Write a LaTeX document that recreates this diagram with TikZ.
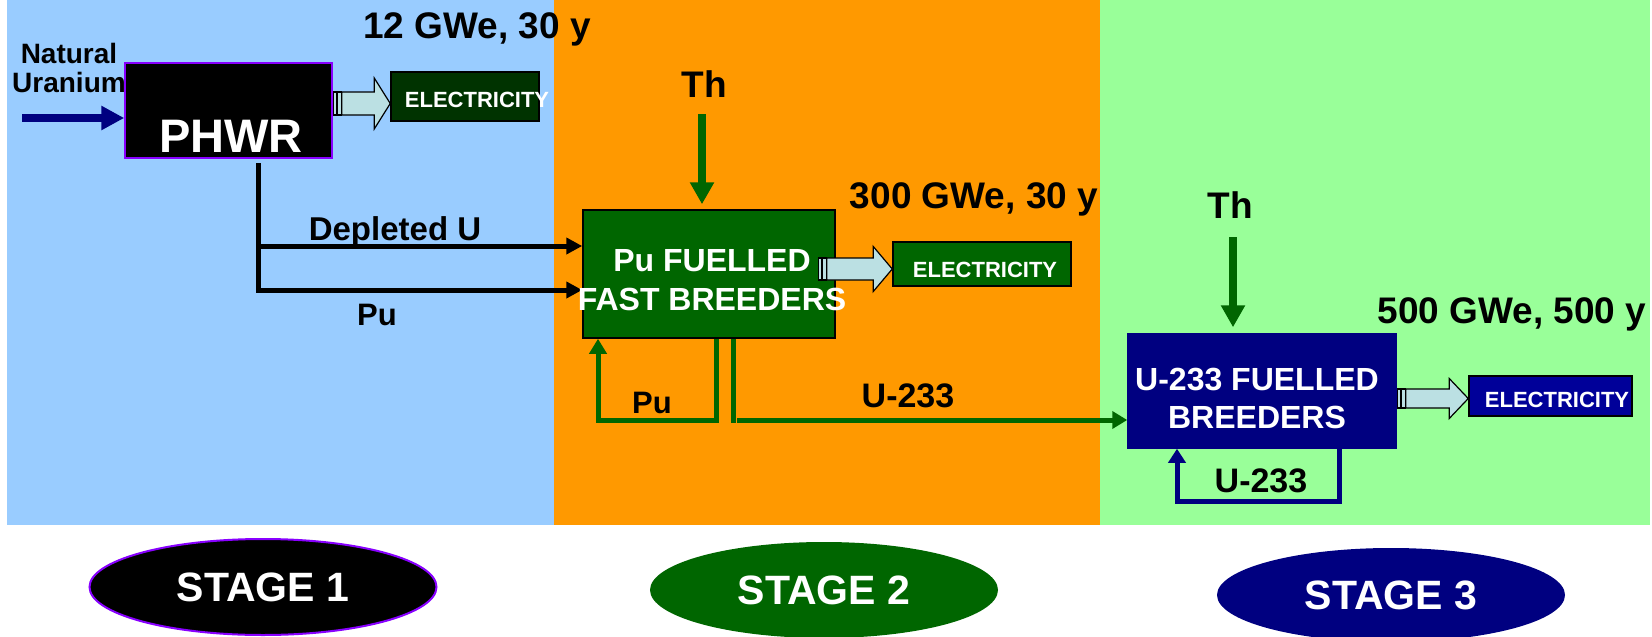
\documentclass[tikz,border=0pt]{standalone}
\usepackage{fontspec}
\setmainfont{Liberation Sans}
\usetikzlibrary{arrows.meta,calc,shapes.geometric}
\definecolor{pblue}{HTML}{99CCFF}
\definecolor{porange}{HTML}{FF9900}
\definecolor{pgreen}{HTML}{99FF99}
\definecolor{dgreen}{HTML}{006600}
\definecolor{ddgreen}{HTML}{003300}
\definecolor{navyb}{HTML}{000080}
\definecolor{navyc}{HTML}{000099}
\definecolor{purp}{HTML}{8800FF}
\definecolor{arrfill}{HTML}{BBE0E3}
\newcommand{\myfs}[1]{\fontsize{#1pt}{#1pt}\selectfont\bfseries}
\newcommand{\elecarrow}[5]{%
  \draw[earrow] ($(#1)+(1,-#3)$) rectangle ($(#1)+(4,#3)$);
  \draw[earrow] ($(#1)+(5,-#3)$) rectangle ($(#1)+(9,#3)$);
  \draw[earrow] ($(#1)+(9,-#3)$) -- ($(#2)+(-#5,-#3)$) -- ($(#2)+(-#5,-#4)$) -- (#2)
     -- ($(#2)+(-#5,#4)$) -- ($(#2)+(-#5,#3)$) -- ($(#1)+(9,#3)$) -- cycle;}
\begin{document}
\begin{tikzpicture}[x=1pt,y=-1pt,
  txt/.style={anchor=base,inner sep=0pt,font=\myfs{#1}},
  box/.style={rectangle,draw=black,line width=1.5pt,inner sep=0pt},
  earrow/.style={draw=black,fill=arrfill,line width=1.2pt,line join=miter},
  navyarrow/.style={draw=navyb,line width=8pt,-{Triangle[length=23pt,width=23pt]}},
  blk/.style={draw=black,line width=5pt,line join=miter},
  blkarrow/.style={blk,-{Triangle[length=16pt,width=16pt]}},
  grarrow/.style={draw=dgreen,line width=8pt,-{Triangle[length=22pt,width=23pt]}},
  grline/.style={draw=dgreen,line width=5pt,line join=miter},
  nvline/.style={draw=navyb,line width=5pt,line join=miter},
  stage/.style={ellipse,inner sep=0pt,minimum width=348,text=white,font=\myfs{41}}]
\useasboundingbox (0,0) rectangle (1652,637);
\clip (0,0) rectangle (1652,637);
\fill[white] (0,0) rectangle (1652,637);
% panels
\fill[pblue] (7.4,0) rectangle (554,525);
\fill[porange] (554,0) rectangle (1100,525);
\fill[pgreen] (1100,0) rectangle (1650,525);
% boxes
\node[box,fill=black,draw=purp,minimum width=207,minimum height=95] (phwr) at (228.5,110.5) {};
\node[box,fill=ddgreen,minimum width=148,minimum height=49] (elec1) at (465,96.5) {};
\node[box,fill=dgreen,minimum width=252,minimum height=128] (fbr) at (709,274) {};
\node[box,fill=dgreen,minimum width=178,minimum height=44] (elec2) at (982,264) {};
\node[box,fill=navyb,draw=navyb,minimum width=268,minimum height=114] (ubr) at (1262,391) {};
\node[box,fill=navyc,minimum width=163,minimum height=40] (elec3) at (1550.5,396) {};
% electricity block arrows
\coordinate (e1s) at (phwr.east |- 0,103.5);
\coordinate (e1t) at (elec1.west |- 0,103.5);
\elecarrow{e1s}{e1t}{11.5}{25.5}{16}
\coordinate (e2s) at ($(fbr.east |- 0,269)+(-18,0)$);
\coordinate (e2t) at (elec2.west |- 0,269);
\elecarrow{e2s}{e2t}{11}{22.5}{19}
\coordinate (e3s) at (ubr.east |- 0,398.5);
\coordinate (e3t) at (elec3.west |- 0,398.5);
\elecarrow{e3s}{e3t}{9.5}{20}{19}
% natural uranium input
\coordinate (nu) at (22,118);
\draw[navyarrow] (nu) -- (nu -| phwr.west);
% depleted U and Pu from PHWR
\coordinate (dv) at (258,163);
\draw[blkarrow] (dv) -- (dv |- 0,290) -- (fbr.west |- 0,290);
\draw[blkarrow] (dv |- 0,246) -- (fbr.west |- 0,246);
% thorium inputs
\coordinate (th2s) at (702,114);
\draw[grarrow] (th2s) -- ($(th2s |- fbr.north)+(0,-5)$);
\coordinate (th3s) at (1233,237);
\draw[grarrow] (th3s) -- ($(th3s |- ubr.north)+(0,-6)$);
% Pu recycle loop
\draw[grline,-{Triangle[length=15pt,width=17pt]}] (fbr.south -| 716,0) -- (716,420) -- (598,420) -- (fbr.south -| 598,0);
% U-233 to stage 3
\draw[grline] (fbr.south -| 733,0) -- (733,423);
\draw[grline,-{Triangle[length=15pt,width=17pt]}] (737,420) -- (ubr.west |- 0,420);
% U-233 recycle loop
\draw[nvline,-{Triangle[length=14pt,width=17pt]}] (ubr.south -| 1339,0) -- (1339,501) -- (1177,501) -- (ubr.south -| 1177,0);
% texts
\node[txt=37] (g1) at (477,38.5) {12 GWe, 30 y};
\node[txt=28] (nat1) at (69,63) {Natural};
\node[txt=28] (nat2) at (69,92) {Uranium};
\node[txt=47,text=white] (phwrt) at (231,152) {PHWR};
\node[txt=22,text=white] (el1t) at (477,107) {ELECTRICITY};
\node[txt=33] (dep) at (395,240) {Depleted U};
\node[txt=31] (pu1) at (377,325) {Pu};
\node[txt=37] (th2) at (704,97.5) {Th};
\node[txt=32,text=white] (fb1) at (712,271) {Pu FUELLED};
\node[txt=32,text=white] (fb2) at (712,310) {FAST BREEDERS};
\node[txt=37] (g2) at (974,208.5) {300 GWe, 30 y};
\node[txt=22,text=white] (el2t) at (985,277) {ELECTRICITY};
\node[txt=31] (pu2) at (652,413) {Pu};
\node[txt=34] (u1) at (908,407) {U-233};
\node[txt=37] (th3) at (1230,218.5) {Th};
\node[txt=37] (g3) at (1512,323.5) {500 GWe, 500 y};
\node[txt=32,text=white] (ub1) at (1257,390) {U-233 FUELLED};
\node[txt=32,text=white] (ub2) at (1257,428) {BREEDERS};
\node[txt=22,text=white] (el3t) at (1557,407) {ELECTRICITY};
\node[txt=34] (u2) at (1261,492) {U-233};
% stage ellipses
\node[stage,fill=black,draw=purp,line width=2pt,minimum width=347,minimum height=96] (s1) at (263,587) {STAGE 1};
\node[stage,fill=dgreen,minimum height=96] (s2) at (824,590) {STAGE 2};
\node[stage,fill=navyb,minimum height=94] (s3) at (1391,595) {STAGE 3};
\end{tikzpicture}
\end{document}
